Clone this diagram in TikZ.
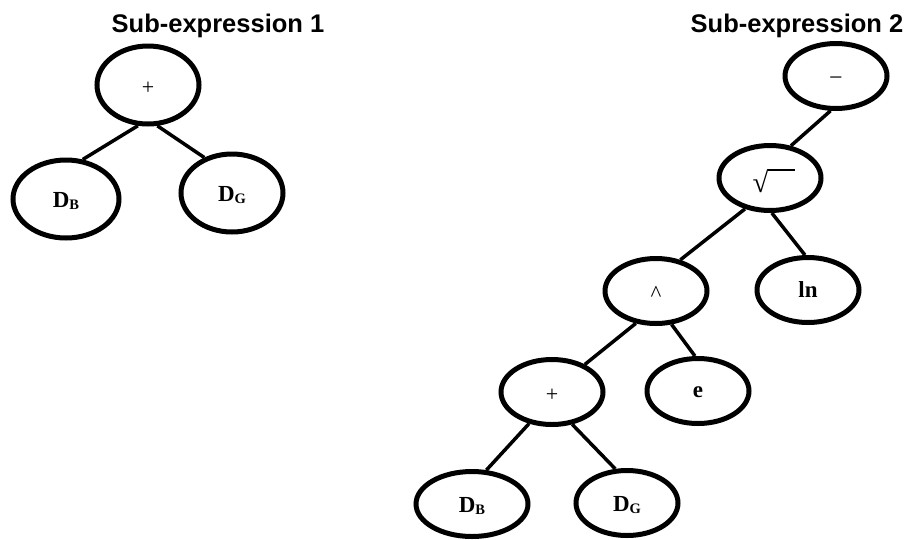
\documentclass[tikz,border=0pt]{standalone}
\usepackage{fontspec}
\setmainfont{Liberation Serif}
\newfontfamily\titlefont{Liberation Sans}
\usetikzlibrary{shapes.geometric}
\newcommand{\lowered}[2]{\raisebox{-#1}[\height][\depth]{#2}}
\newcommand{\Dsub}[1]{\lowered{2pt}{\textbf{D\raisebox{-1.5pt}{\fontsize{14.5}{14.5}\selectfont #1}}}}
\newcommand{\sqrtsym}{\mbox{\fontsize{29}{29}\selectfont\sbox0{√}\usebox0\rule[\dimexpr\ht0-1.3pt\relax]{27pt}{1.3pt}}}
\begin{document}
\begin{tikzpicture}[x=1pt,y=-1pt,
  tnode/.style={ellipse, draw, line width=5pt, inner sep=0pt, minimum width=102pt, minimum height=78pt, font=\fontsize{23}{23}\selectfont},
  snode/.style={tnode, minimum height=65pt},
  edge/.style={line width=3.5pt},
  title/.style={font=\titlefont\bfseries\fontsize{25.5}{26}\selectfont, anchor=base}]
\useasboundingbox (0,0) rectangle (910,539);
% titles
\node[title] (t1) at (218,32) {Sub-expression 1};
\node[title] (t2) at (797,32) {Sub-expression 2};
% sub-expression 1
\node[tnode] (p1) at (148,85) {\lowered{3pt}{\fontsize{22}{22}\selectfont +}};
\node[tnode, minimum width=106pt] (db1) at (66,199) {\Dsub{B}};
\node[tnode] (dg1) at (232,193) {\Dsub{G}};
\draw[edge] (p1.256) -- (db1.67);
\draw[edge] (p1.283) -- (dg1.128);
% sub-expression 2
\node[snode] (mi) at (836,76) {\lowered{5.5pt}{\fontsize{24}{24}\selectfont −}};
\node[snode] (sq) at (770,178) {\hspace*{8pt}\lowered{3pt}{\sqrtsym}};
\node[snode] (pw) at (656,291) {\lowered{2.5pt}{\textasciicircum}};
\node[snode] (ln) at (808,290) {\textbf{ln}};
\node[snode] (p2) at (552,392) {\lowered{3pt}{\fontsize{22}{22}\selectfont +}};
\node[snode] (ee) at (698,391) {\lowered{1.5pt}{\textbf{e}}};
\node[snode, minimum width=112pt] (db2) at (472,504) {\Dsub{B}};
\node[snode] (dg2) at (627,503) {\Dsub{G}};
\draw[edge] (mi.261) -- (sq.57);
\draw[edge] (sq.231) -- (pw.52);
\draw[edge] (sq.273) -- (ln.95);
\draw[edge] (pw.238) -- (p2.40);
\draw[edge] (pw.295) -- (ee.95);
\draw[edge] (p2.234) -- (db2.67);
\draw[edge] (p2.302) -- (dg2.109);
\end{tikzpicture}
\end{document}
